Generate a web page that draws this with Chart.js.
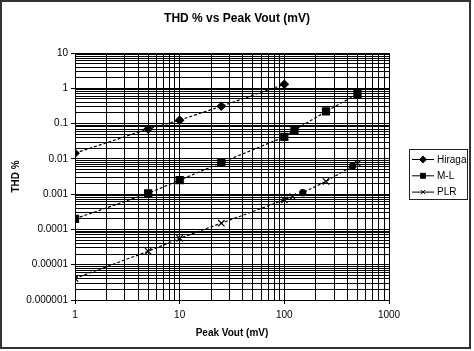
<!DOCTYPE html>
<html>
<head>
<meta charset="UTF-8">
<style>
    body { margin: 0; background: #fff; }
    canvas { display: block; }
</style>
</head>
<body>
<canvas id="myChart" width="474" height="351"></canvas>

<script src="https://cdn.jsdelivr.net/npm/chart.js"></script>

<script>
    // Peak Vout (mV) and THD (%)
    const hiragaVout = [1, 5, 10, 25, 100];
    const hiragaThd = [0.0145, 0.07, 0.125, 0.31, 1.3];

    const mlVout = [1, 5, 10, 25, 100, 125, 250, 500];
    const mlThd = [0.0002, 0.00105, 0.0025, 0.0078, 0.042, 0.065, 0.22, 0.69];

    const plrVout = [1, 5, 10, 25, 100, 120, 150, 250, 450, 500];
    const plrThd = [0.0000041, 0.000024, 0.000056, 0.00015, 0.00069, 0.00085, 0.0011, 0.0023, 0.0063, 0.0075];
    const plrMarkers = ['crossRot', 'crossRot', 'crossRot', 'crossRot', 'crossRot', 'crossRot', 'circle', 'crossRot', 'circle', 'crossRot'];

    const seriesNames = ['Hiraga', 'M-L', 'PLR'];
    const xTickLabels = ['1', '10', '100', '1000'];
    const yTickLabels = ['0.000001', '0.00001', '0.0001', '0.001', '0.01', '0.1', '1', '10'];

    const FONT = '"Liberation Sans", Arial, sans-serif';

    function toPoints(xs, ys) {
        return xs.map((x, i) => ({ x: x, y: ys[i] }));
    }

    // every 1..9 step of each decade, decades flagged major
    function logTicks(minExp, maxExp) {
        const ticks = [];
        for (let e = minExp; e < maxExp; e++) {
            for (let m = 1; m < 10; m++) {
                ticks.push({ value: m * Math.pow(10, e), major: m === 1 });
            }
        }
        ticks.push({ value: Math.pow(10, maxExp), major: true });
        return ticks;
    }

    function decadeLabel(value, labels, minExp) {
        const e = Math.log10(value);
        const r = Math.round(e);
        if (Math.abs(e - r) > 1e-6) return '';
        return labels[r - minExp] || '';
    }

    const frame = {
        id: 'frame',
        beforeDraw(chart) {
            const ctx = chart.ctx;
            ctx.save();
            ctx.fillStyle = '#fff';
            ctx.fillRect(0, 0, chart.width, chart.height);
            ctx.restore();
        },
        afterDraw(chart) {
            const ctx = chart.ctx;
            ctx.save();
            ctx.strokeStyle = '#333';
            ctx.lineWidth = 2;
            ctx.strokeRect(1, 1, 469, 347);
            ctx.restore();
        }
    };

    const legendBox = {
        id: 'legendBox',
        afterDraw(chart) {
            const ctx = chart.ctx;
            const area = chart.chartArea;
            const left = area.right + 20;
            const top = 149;
            ctx.save();
            ctx.strokeStyle = '#222';
            ctx.lineWidth = 1;
            ctx.strokeRect(left + 0.5, top + 0.5, 58, 50);
            ctx.font = '10px ' + FONT;
            ctx.textBaseline = 'middle';
            ctx.textAlign = 'left';
            chart.data.datasets.forEach((ds, i) => {
                const y = top + 10.5 + i * 16.3;
                ctx.strokeStyle = '#000';
                ctx.beginPath();
                ctx.moveTo(left + 3, y);
                ctx.lineTo(left + 25, y);
                ctx.stroke();
                ctx.fillStyle = '#000';
                const style = Array.isArray(ds.pointStyle) ? ds.pointStyle[0] : ds.pointStyle;
                const radius = style === 'crossRot' ? 3 : 3.5;
                Chart.helpers.drawPoint(ctx, { pointStyle: style, radius: radius, rotation: 0, borderWidth: 1 }, left + 14, y);
                ctx.fillStyle = '#000';
                ctx.fillText(ds.label, left + 28, y + 0.5);
            });
            ctx.restore();
        }
    };

    const gridOpts = {
        color: '#000',
        lineWidth: 1,
        tickLength: 4,
        tickColor: c => (c.tick && c.tick.major) ? '#000' : 'rgba(0,0,0,0)'
    };

    function chart() {
        const ctx = document.getElementById('myChart');
        new Chart(ctx, {
            type: 'scatter',
            data: {
                datasets: [{
                    label: seriesNames[0],
                    data: toPoints(hiragaVout, hiragaThd),
                    pointStyle: 'rectRot',
                    pointRadius: 4
                }, {
                    label: seriesNames[1],
                    data: toPoints(mlVout, mlThd),
                    pointStyle: 'rect',
                    pointRadius: 5
                }, {
                    label: seriesNames[2],
                    data: toPoints(plrVout, plrThd),
                    pointStyle: plrMarkers,
                    pointRadius: plrMarkers.map(s => s === 'circle' ? 3 : 4.5)
                }].map(ds => Object.assign({
                    showLine: true,
                    borderColor: '#000',
                    backgroundColor: '#000',
                    borderWidth: 1.2,
                    borderDash: [3, 2],
                    pointBorderColor: '#000',
                    pointBackgroundColor: '#000',
                    pointBorderWidth: 1.2
                }, ds))
            },
            plugins: [frame, legendBox],
            options: {
                responsive: false,
                animation: false,
                layout: {
                    padding: 0
                },
                scales: {
                    x: {
                        type: 'logarithmic',
                        min: 1,
                        max: 1000,
                        afterBuildTicks: axis => { axis.ticks = logTicks(0, 3); },
                        afterFit: axis => { axis.height = 51; },
                        ticks: {
                            autoSkip: false,
                            maxRotation: 0,
                            padding: 5,
                            color: '#000',
                            font: { family: FONT, size: 10 },
                            callback: value => decadeLabel(value, xTickLabels, 0)
                        },
                        grid: gridOpts,
                        border: { color: '#000' },
                        title: {
                            display: true,
                            text: 'Peak Vout (mV)',
                            color: '#000',
                            font: { family: FONT, size: 10, weight: 'bold' },
                            padding: { top: 0, bottom: 12 }
                        }
                    },
                    y: {
                        type: 'logarithmic',
                        min: 0.000001,
                        max: 10,
                        afterBuildTicks: axis => { axis.ticks = logTicks(-6, 1); },
                        afterFit: axis => { axis.width = 75; },
                        ticks: {
                            autoSkip: false,
                            padding: 3,
                            color: '#000',
                            font: { family: FONT, size: 10 },
                            callback: value => decadeLabel(value, yTickLabels, -6)
                        },
                        grid: gridOpts,
                        border: { color: '#000' },
                        title: {
                            display: true,
                            text: 'THD %',
                            color: '#000',
                            font: { family: FONT, size: 10, weight: 'bold' },
                            padding: { top: 10, bottom: 0 }
                        }
                    },
                    // empty right-hand box that leaves room for the legend
                    legendSpace: {
                        type: 'linear',
                        position: 'right',
                        afterFit: axis => { axis.width = 85; },
                        ticks: { display: false },
                        grid: { display: false, drawTicks: false },
                        border: { display: false }
                    }
                },
                plugins: {
                    legend: { display: false },
                    tooltip: { enabled: false },
                    title: {
                        display: true,
                        text: 'THD % vs Peak Vout (mV)',
                        color: '#000',
                        font: { family: FONT, size: 12, weight: 'bold' },
                        padding: { top: 11, bottom: 27.6 }
                    }
                }
            }
        });
    }

    chart();
</script>
</body>
</html>
